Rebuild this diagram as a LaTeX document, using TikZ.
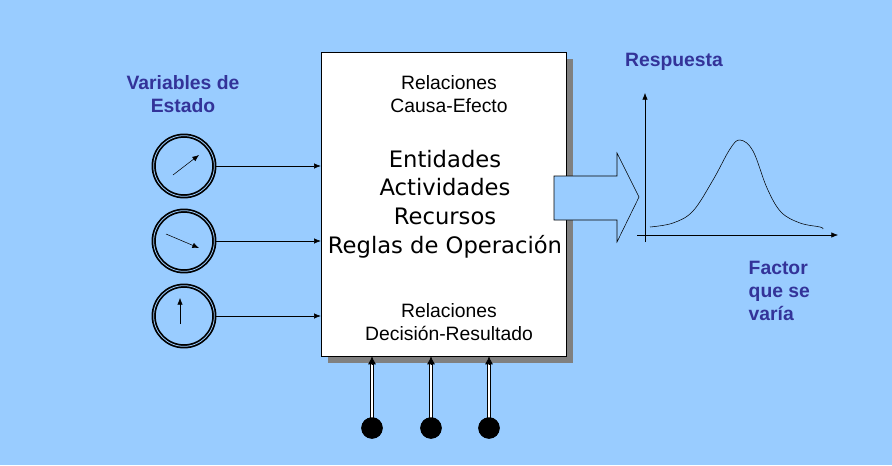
\documentclass[tikz,border=0pt]{standalone}
\usepackage{fontspec}
\setmainfont{Liberation Sans}
\newfontfamily\verdfont{DejaVu Sans}
\usetikzlibrary{arrows.meta,shadows}

\definecolor{bgblue}{RGB}{153,204,255}
\definecolor{labelblue}{RGB}{51,51,153}
\definecolor{shadowgray}{RGB}{128,128,128}

\tikzset{
  gauge/.style={circle, draw, fill=bgblue, line width=1.3pt, double=bgblue,
    double distance=0.6pt, minimum size=45.5pt, inner sep=0pt},
  feed/.style={-{Latex[length=5pt,width=4pt]}, thin},
  needle/.style={-{Latex[length=5pt,width=4pt]}, thin},
  dot/.style={circle, fill=black, minimum size=16pt, inner sep=0pt},
  push/.style={double, double distance=1.3pt, line width=0.6pt},
  pushtip/.style={-{Latex[length=6pt,width=6pt]}, line width=0.6pt},
  boxtext/.style={font=\fontsize{14.5}{17}\selectfont, align=center},
  bigtext/.style={font=\verdfont\fontsize{17}{21.5}\selectfont, align=center},
  varlabel/.style={font=\bfseries\fontsize{14.5}{17.5}\selectfont, text=labelblue}
}

\begin{document}
\begin{tikzpicture}[x=0.75pt, y=-0.75pt]
            % Draw the background
            \fill[bgblue] (0,0) rectangle (892,465);
            \useasboundingbox (0,0) rectangle (892,465);

            % Draw the model box
            \node[draw, fill=white, thin, minimum width=183.75pt, minimum height=228pt,
              drop shadow={shadow xshift=5.5pt, shadow yshift=-5.5pt, fill=shadowgray, opacity=1}]
              (box) at (443.5,204) {};

            \node[boxtext] (causa) at (449,94) {Relaciones\\Causa-Efecto};
            \node[bigtext] (model) at (445,204) {Entidades\\Actividades\\Recursos\\Reglas de Operación};
            \node[boxtext] (decision) at (449,322) {Relaciones\\Decisión-Resultado};

            % Draw the state variables
            \node[varlabel, align=center] (vars) at (183,94) {Variables de\\Estado};

            \node[gauge] (g1) at (184,166) {};
            \node[gauge] (g2) at (184,241) {};
            \node[gauge] (g3) at (184,316) {};

            \draw[needle] ([shift={(-11,9)}]g1.center) -- ([shift={(15,-11)}]g1.center);
            \draw[needle] ([shift={(-18,-7)}]g2.center) -- ([shift={(15,7)}]g2.center);
            \draw[needle] ([shift={(-4,8)}]g3.center) -- ([shift={(-4,-18)}]g3.center);

            \draw[feed] (g1.east) -- (g1.east -| box.west);
            \draw[feed] (g2.east) -- (g2.east -| box.west);
            \draw[feed] (g3.east) -- (g3.east -| box.west);

            % Draw the decision inputs
            \node[dot] (d1) at (372,428) {};
            \node[dot] (d2) at (431,428) {};
            \node[dot] (d3) at (489,428) {};

            \draw[push] (d1.center) -- ([yshift=-5pt]d1 |- box.south);
            \draw[push] (d2.center) -- ([yshift=-5pt]d2 |- box.south);
            \draw[push] (d3.center) -- ([yshift=-5pt]d3 |- box.south);
            \draw[pushtip] ([yshift=-6pt]d1 |- box.south) -- (d1 |- box.south);
            \draw[pushtip] ([yshift=-6pt]d2 |- box.south) -- (d2 |- box.south);
            \draw[pushtip] ([yshift=-6pt]d3 |- box.south) -- (d3 |- box.south);
            \node[dot] at (d1) {};
            \node[dot] at (d2) {};
            \node[dot] at (d3) {};

            % Draw the output arrow
            \draw[fill=bgblue, thin] (554,176) -- (617,176) -- (617,153) -- (639,197)
              -- (617,242) -- (617,220) -- (554,220) -- cycle;

            % Draw the response plot
            \coordinate (ytop) at (645,93);
            \coordinate (ybot) at (645,242);
            \coordinate (xleft) at (637,235);
            \coordinate (xright) at (838,235);
            \draw[feed] (ybot) -- (ytop);
            \draw[feed] (xleft) -- (xright);

            \draw[thin] plot[smooth, tension=0.6] coordinates {(650,227) (673,223) (693,211)
              (713,180) (730,149) (740,140) (753,151) (767,188) (781,212) (800,223) (820,227) (823,229)};

            \node[varlabel] (resp) at (674,62) {Respuesta};
            \node[varlabel, align=left, anchor=west] (factor) at (744,291) {Factor\\que se\\varía};

        \end{tikzpicture}
\end{document}
